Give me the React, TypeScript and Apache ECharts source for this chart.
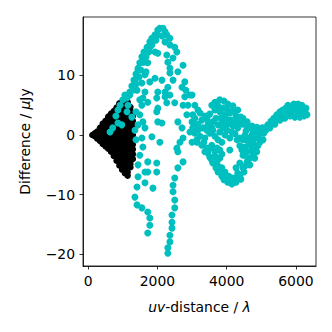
import React, { useEffect, useRef } from "react";
import * as echarts from "echarts";

// Tick labels
const xTicks = [0, 2000, 4000, 6000];
const yTicks = [-20, -10, 0, 10];

// Black (dense) points, by uv-distance column
const blackColumnUv = [120, 190, 260, 340, 420, 500, 580, 660, 740, 820, 900, 980, 1060, 1140, 1220, 1290];
const blackColumnVals: number[][] = [
  [0],
  [-0.2, 0.3],
  [-0.6, 0, 0.6],
  [-1.0, -0.3, 0.5, 1.2],
  [-1.5, -0.8, 0, 0.8, 1.5, 1.9],
  [-1.9, -1.3, -0.5, 0.3, 1.1, 1.9, 2.4],
  [-2.3, -1.7, -1.0, -0.3, 0.5, 1.3, 2.1, 2.9, 3.1],
  [-2.8, -2.2, -1.5, -0.8, -0.1, 0.7, 1.5, 2.3, 3.1, 3.6],
  [-3.5, -2.9, -2.2, -1.5, -0.8, 0, 0.8, 1.6, 2.4, 3.2, 4.0],
  [-4.3, -3.7, -3.0, -2.2, -1.5, -0.8, 0, 0.8, 1.6, 2.4, 3.2, 4.0, 4.6],
  [-5.1, -4.5, -3.8, -3.1, -2.3, -1.5, -0.7, 0.1, 0.9, 1.7, 2.5, 3.3, 4.1, 4.8, 5.3],
  [-5.8, -5.2, -4.5, -3.8, -3.0, -2.2, -1.4, -0.6, 0.2, 1.0, 1.8, 2.6, 3.4, 4.2, 5.0, 5.6],
  [-6.4, -5.8, -5.1, -4.4, -3.6, -2.8, -2.0, -1.2, -0.4, 0.4, 1.2, 2.0, 2.8, 3.6, 4.4, 5.2, 5.8],
  [-6.8, -6.2, -5.5, -4.8, -4.0, -3.2, -2.4, -1.6, -0.8, 0, 0.8, 1.6, 2.4, 3.2, 4.0, 4.8, 5.5],
  [-5.4, -4.8, -4.0, -3.2, -2.4, -1.6, -0.8, 0, 0.8, 1.6, 2.4, 3.2, 4.0, 4.7],
  [-4.0, -3.2, -2.4, -1.6, -0.8, 0, 0.8, 1.6, 2.4, 3.2],
];

// Cyan points: [uv-distance, difference]
const tealNearCore: number[][] = [
  [630, 0.5], [710, 1.2], [860, 2.0], [970, 1.7], [800, 3.2], [860, 4.2], [920, 5.0], [1000, 5.9],
  [1060, 6.7], [1120, 6.2], [1200, 6.7], [1260, 3.0], [1150, 5.0], [1120, 3.9],
];
const tealRise: number[][] = [
  [1200, 7.2], [1260, 8.2], [1320, 9.2], [1380, 10.2], [1440, 11.2], [1490, 12.1], [1550, 13.1],
  [1610, 13.9], [1700, 14.7], [1780, 15.6], [1840, 16.2], [1930, 16.8], [2010, 17.6], [2070, 17.9],
  [1290, 7.5], [1380, 8.5], [1470, 9.7], [1520, 10.9], [1610, 12.2], [1670, 13.1], [1750, 13.9],
  [1840, 15.1], [1960, 15.9], [2130, 16.6], [2160, 17.9], [2270, 16.8], [2360, 16.2],
  [1350, 8.9], [1550, 8.7], [1440, 10.9], [1550, 12.2], [1640, 13.4], [1720, 12.1], [1640, 10.1],
  [1670, 10.6], [1780, 14.7], [1930, 13.9], [2010, 13.7], [1780, 8.9], [1930, 9.5], [1640, 7.2],
  [1580, 6.2], [1720, 5.5], [2010, 16.8], [2220, 17.3], [2220, 15.6], [2360, 15.1], [2500, 14.7],
  [2560, 13.9], [2450, 12.9], [2300, 12.2], [2270, 13.4], [2360, 11.2], [2590, 10.6], [2740, 11.7],
  [2360, 10.4], [2450, 9.2], [2130, 9.2], [2300, 8.0], [2710, 8.0], [2790, 8.9], [2940, 6.7],
  [2220, 7.2], [2010, 7.2], [2360, 6.7], [2220, 6.4], [2270, 5.4], [2500, 5.4], [1980, 6.2],
  [2010, 4.5], [1980, 3.9], [2010, 2.2], [2130, 2.0], [1840, -0.3], [2070, -1.2],
  [2820, 7.5], [2880, 5.0], [2790, 6.4], [2740, 5.0], [2850, 3.4], [3020, 3.4], [3140, 1.7],
  [3000, 6.7], [2590, 2.2], [2710, 1.2], [2940, 0.5], [3140, -1.2], [3000, -1.2], [2740, -0.5],
  [2650, -1.2], [2560, -2.2],
];
const tealColumns: number[][] = [
  [1490, 5.9], [1410, 7.5], [1550, 5.0], [1490, 3.4], [1580, 2.2], [1640, 1.2], [1440, 1.7],
  [1550, -0.5], [1580, -2.0], [1490, -3.4], [1440, -5.0], [1640, -6.2], [1440, -7.0], [1410, -8.7],
  [1350, -10.4], [1410, -11.7], [1550, -12.2], [1720, -12.9], [1780, -13.9], [1780, -15.1],
  [1720, -16.4], [1720, -4.5], [1980, -4.7], [1980, -6.2], [1720, -6.2], [1640, -8.0], [1870, -8.9],
  [1350, 0.8], [1380, -0.8], [1380, 3.9],
  [2590, -2.8], [2740, -4.5], [2590, -5.5], [2500, -7.2], [2450, -8.4], [2450, -9.5], [2500, -10.9],
  [2500, -12.2], [2420, -13.4], [2420, -14.6], [2420, -15.6], [2360, -16.8], [2360, -17.9],
  [2300, -18.9], [2300, -19.8],
];
const tealValley: number[][] = [
  [3660, 5.5], [3800, 5.9], [3920, 5.7], [4030, 5.2], [4180, 4.9], [4320, 4.2],
  [3230, 3.7], [3370, 3.2], [3510, 3.5], [3660, 4.2], [3800, 3.9], [3950, 3.4], [4090, 3.7],
  [4270, 3.2], [4410, 3.0],
  [3000, 2.2], [3170, 1.8], [3310, 1.2], [3460, 1.8], [3600, 2.2], [3750, 1.7], [3890, 2.2],
  [4030, 1.8], [4180, 1.5], [4320, 1.2], [4470, 1.8], [4610, 1.2], [4760, 0.7], [4900, 0.7],
  [3080, 0.3], [3230, -0.2], [3370, -0.5], [3510, 0.3], [3660, -0.2], [3800, 0.5], [3950, 0],
  [4090, -0.5], [4240, 0.2], [4380, -0.5], [4530, 0], [4670, -0.5], [4810, -0.2], [4960, 0.2],
  [5070, 0.3],
  [3280, -1.7], [3430, -2.2], [3570, -1.7], [3720, -2.2], [3860, -1.2], [4380, -1.8], [4530, -2.0],
  [4670, -1.7], [4810, -2.2], [4960, -1.2], [5050, -0.8],
  [3370, -2.8], [3510, -3.7], [3660, -3.5], [3800, -3.9], [3860, -3.2], [4470, -3.4], [4610, -3.9],
  [4760, -3.4], [4870, -2.8],
  [3600, -4.7], [3750, -5.2], [3860, -5.5], [4380, -4.7], [4530, -5.2], [4670, -5.0], [4270, -5.5],
  [3750, -6.2], [3860, -6.9], [4010, -7.2], [4120, -7.7], [4240, -7.2], [4380, -6.9], [4500, -6.2],
  [4090, -2.5],
  [3080, 5.0], [3170, 4.2], [3570, 5.0], [3750, 4.9], [3890, 4.5],
  [4030, 4.2], [4180, 3.9], [4470, 2.8], [4590, 2.2], [4730, 1.5], [4870, 1.3], [5020, 1.2],
  [3080, 2.8], [3280, 2.5], [3430, 2.7], [3570, 1.2], [3690, 2.8], [3830, 2.8], [3980, 2.7],
  [4120, 2.5], [4270, 2.3], [4380, 2.0], [4560, 0.7], [4730, 0],
  [3020, 1.2], [3170, 0.8], [3430, 0.8], [3600, 0.8], [3750, -0.8], [3890, 1.2], [4010, 0.8],
  [4150, 0.5], [4300, -0.8], [4470, -0.8], [4610, -1.0], [4760, -1.2], [4900, -0.5],
  [3140, -0.8], [3340, -1.2], [3510, -2.2], [3660, -2.7], [3800, -2.5], [4440, -2.5], [4590, -2.8],
  [4730, -2.5], [4900, -1.8], [3460, -3.0], [3570, -4.2], [3720, -4.4], [4670, -3.9], [4810, -3.9],
  [3690, -5.5], [3800, -6.0], [3950, -6.2], [4060, -6.9], [4180, -7.2], [4320, -6.4], [4470, -5.5],
  [4590, -4.5], [3920, -7.5], [4030, -7.9], [4150, -8.2], [4270, -7.9], [4410, -7.4],
];
const tealTail: number[][] = [
  [5100, 1.2], [5190, 1.7], [5280, 2.3], [5360, 2.8], [5450, 3.4], [5540, 3.9], [5620, 4.2],
  [5710, 4.5], [5830, 4.7], [5910, 4.7], [6000, 4.7], [6090, 4.5], [6170, 4.2], [6260, 3.9],
  [6320, 3.4], [5250, 1.2], [5390, 1.8], [5540, 2.5], [5680, 2.8], [5830, 3.2], [5970, 3.0],
  [6110, 3.0],
  [5020, 0.5], [5130, 0.8], [5220, 1.5], [5330, 2.2], [5420, 2.5], [5510, 3.2], [5590, 3.5],
  [5740, 3.9], [5880, 4.0], [6030, 4.0], [6140, 3.7], [6230, 3.2], [5940, 5.2], [6060, 5.2],
  [6170, 5.0], [6290, 4.5], [5770, 5.0],
];

const FONT = "DejaVu Sans";
const FS = 13.9;

export default function App() {
  const ref = useRef<HTMLDivElement>(null);
  useEffect(() => {
    document.body.style.margin = "0";
    const chart = echarts.init(ref.current!, null, { renderer: "svg" });
    const blackData: number[][] = [];
    blackColumnUv.forEach((u, i) => {
      blackColumnVals[i].forEach((v) => blackData.push([u, v]));
    });
    const tealData = [...tealNearCore, ...tealRise, ...tealColumns, ...tealValley, ...tealTail];
    const minus = (v: number) => String(v).replace("-", "\u2212");
    const axisCommon = {
      type: "value",
      axisLine: { show: true, onZero: false, lineStyle: { color: "#000", width: 0.8 } },
      splitLine: { show: false },
      nameLocation: "middle",
    };
    chart.setOption({
      animation: false,
      backgroundColor: "#fff",
      grid: {
        left: 83,
        right: 16,
        top: 17,
        bottom: 66,
        show: true,
        borderColor: "#000",
        borderWidth: 0.8,
        backgroundColor: "transparent",
      },
      xAxis: {
        ...axisCommon,
        min: -150,
        max: 6580,
        axisTick: {
          show: true,
          length: 3.5,
          lineStyle: { color: "#000", width: 0.8 },
          customValues: xTicks,
        },
        axisLabel: {
          customValues: xTicks,
          formatter: minus,
          color: "#000",
          fontSize: FS,
          fontFamily: FONT,
          margin: 8,
        },
        name: "{i|uv}-distance / {i|λ}",
        nameGap: 34,
        nameTextStyle: {
          color: "#000",
          fontSize: FS,
          fontFamily: FONT,
          rich: { i: { fontStyle: "italic", fontSize: FS, fontFamily: FONT, color: "#000" } },
        },
      },
      yAxis: {
        ...axisCommon,
        min: -21.94,
        max: 19.77,
        axisTick: {
          show: true,
          length: 3.5,
          lineStyle: { color: "#000", width: 0.8 },
          customValues: yTicks,
        },
        axisLabel: {
          customValues: yTicks,
          formatter: minus,
          color: "#000",
          fontSize: FS,
          fontFamily: FONT,
          margin: 8,
        },
        name: "Difference / {i|μ}Jy",
        nameRotate: 90,
        nameGap: 51,
        nameTextStyle: {
          color: "#000",
          fontSize: FS,
          fontFamily: FONT,
          rich: { i: { fontStyle: "italic", fontSize: FS, fontFamily: FONT, color: "#000" } },
        },
      },
      series: [
        {
          type: "scatter",
          data: blackData,
          symbol: "circle",
          symbolSize: 6.5,
          itemStyle: { color: "#000", opacity: 1 },
          silent: true,
        },
        {
          type: "scatter",
          data: tealData,
          symbol: "circle",
          symbolSize: 7,
          itemStyle: { color: "#00bfbf", opacity: 1 },
          silent: true,
        },
      ],
    });
    return () => chart.dispose();
  }, []);
  return <div ref={ref} style={{ width: 332, height: 332 }} />;
}
